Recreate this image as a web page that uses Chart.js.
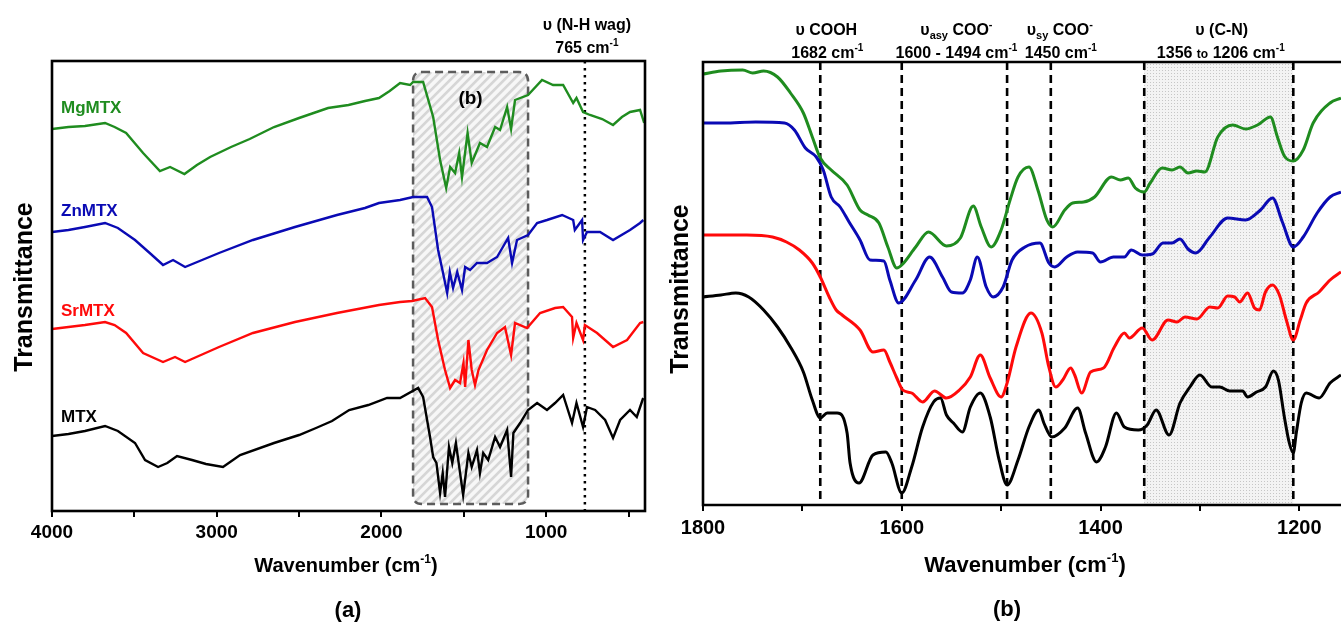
<!DOCTYPE html>
<html>
<head>
<meta charset="utf-8">
<script src="https://cdn.jsdelivr.net/npm/chart.js@4.4.1/dist/chart.umd.min.js"></script>
<style>
  html, body { margin: 0; padding: 0; background: #fff; }
  #wrap { position: relative; width: 1341px; height: 623px; overflow: hidden; }
  #boxA { position: absolute; left: 0; top: 0; width: 660px; height: 623px; }
  #boxB { position: absolute; left: 660px; top: 0; width: 681px; height: 623px; }
</style>
</head>
<body>
<div id="wrap">
  <div id="boxA"><canvas id="chartA" width="660" height="623"></canvas></div>
  <div id="boxB"><canvas id="chartB" width="681" height="623"></canvas></div>
</div>
<script>
// ---- Full-range FTIR spectra, [wavenumber cm-1, transmittance (a.u., stacked)] ----
const mgFull = [[4000,382],[3900,384],[3800,385],[3678,388],[3620,384],[3550,378],[3447,358],[3345,340],[3283,344],[3196,337],[3120,346],[3040,354],[2913,364],[2800,372],[2652,384],[2500,393],[2324,403],[2200,406],[2100,410],[2015,413],[1950,420],[1887,428],[1826,426],[1808,429],[1747,429],[1686,394],[1644,351],[1607,323],[1583,344],[1553,338],[1528,358],[1511,334],[1477,378],[1452,348],[1402,368],[1359,364],[1310,384],[1280,381],[1237,404],[1213,382],[1189,411],[1110,416],[1025,431],[958,426],[897,426],[836,408],[816,413],[776,399],[734,396],[660,392],[594,386],[540,394],[491,399],[430,401],[405,388]];
const znFull = [[4000,279],[3900,281],[3800,284],[3678,288],[3600,283],[3496,271],[3400,257],[3326,246],[3265,251],[3192,244],[2986,258],[2780,271],[2525,284],[2270,296],[2100,303],[2015,308],[1887,311],[1808,314],[1723,314],[1693,304],[1656,261],[1626,238],[1601,218],[1585,239],[1565,223],[1540,239],[1511,221],[1492,244],[1462,241],[1420,248],[1359,248],[1298,254],[1231,273],[1207,248],[1177,271],[1110,276],[1055,288],[995,291],[903,296],[836,291],[826,281],[782,291],[776,271],[752,279],[673,279],[594,271],[491,281],[430,288],[410,291]];
const srFull = [[4000,182],[3900,184],[3800,186],[3678,189],[3620,186],[3550,178],[3447,158],[3326,149],[3253,154],[3192,149],[2986,164],[2780,178],[2525,189],[2270,198],[2015,206],[1887,209],[1814,210],[1735,213],[1693,204],[1656,171],[1614,141],[1583,123],[1553,131],[1523,128],[1502,148],[1492,124],[1472,171],[1452,141],[1432,126],[1411,141],[1359,161],[1298,178],[1250,184],[1213,156],[1189,188],[1116,183],[1037,198],[946,203],[897,204],[843,194],[836,173],[816,188],[776,171],[765,186],[691,178],[594,164],[509,171],[430,188],[410,189]];
const mtxFull = [[4000,75],[3900,77],[3800,80],[3678,85],[3600,80],[3496,68],[3435,51],[3356,44],[3300,48],[3241,55],[3150,51],[3065,47],[2962,44],[2858,56],[2652,68],[2500,76],[2397,83],[2300,90],[2196,101],[2080,106],[1966,113],[1887,113],[1777,123],[1747,114],[1705,74],[1686,54],[1666,48],[1644,18],[1628,38],[1614,14],[1590,64],[1570,48],[1548,68],[1504,16],[1472,58],[1452,44],[1420,61],[1402,38],[1382,58],[1352,51],[1310,74],[1280,64],[1237,81],[1213,34],[1199,78],[1158,88],[1110,101],[1055,108],[995,101],[946,108],[897,116],[843,88],[816,108],[776,84],[752,104],[703,101],[642,91],[594,73],[551,91],[491,101],[450,94],[411,113]];

// ---- Fingerprint region 1800-1158 cm-1 ----
const mgFinger = [[1800,431],[1782,434],[1760,435],[1750,432],[1739,434],[1725,428],[1712,412],[1699,392],[1690,368],[1682,347],[1671,335],[1655,320],[1642,295],[1634,290],[1623,282],[1614,258],[1605,237],[1600,240],[1586,258],[1573,273],[1555,259],[1541,267],[1528,299],[1520,278],[1510,258],[1500,275],[1491,305],[1483,328],[1472,338],[1463,315],[1454,285],[1448,278],[1436,295],[1428,302],[1417,303],[1406,308],[1389,328],[1380,325],[1372,327],[1365,317],[1356,313],[1350,322],[1338,337],[1328,335],[1320,338],[1312,332],[1303,334],[1295,333],[1282,368],[1267,380],[1254,376],[1242,380],[1229,388],[1222,368],[1215,349],[1206,344],[1196,355],[1186,382],[1169,402],[1158,407]];
const znFinger = [[1800,382],[1779,382],[1747,383],[1718,382],[1708,375],[1697,357],[1686,348],[1679,335],[1671,308],[1662,298],[1653,283],[1642,265],[1632,245],[1618,244],[1612,225],[1603,202],[1586,225],[1572,248],[1559,228],[1550,213],[1539,212],[1531,225],[1524,248],[1515,218],[1508,208],[1498,218],[1489,245],[1476,258],[1461,262],[1452,242],[1446,238],[1434,248],[1423,253],[1408,252],[1400,243],[1387,248],[1376,248],[1369,255],[1358,250],[1348,251],[1337,262],[1328,262],[1320,266],[1312,256],[1304,252],[1290,268],[1272,287],[1254,285],[1239,295],[1227,307],[1217,283],[1206,258],[1196,268],[1182,292],[1169,308],[1158,313]];
const srFinger = [[1800,270],[1756,270],[1730,268],[1716,263],[1703,255],[1690,242],[1682,228],[1673,208],[1666,195],[1660,190],[1642,175],[1629,153],[1618,155],[1612,143],[1605,127],[1599,115],[1590,112],[1579,103],[1567,114],[1555,107],[1542,115],[1531,128],[1521,150],[1511,127],[1500,108],[1494,122],[1485,158],[1470,192],[1459,172],[1452,138],[1445,118],[1438,125],[1430,137],[1426,130],[1419,112],[1410,133],[1397,137],[1386,158],[1376,172],[1371,167],[1358,177],[1348,165],[1332,185],[1323,183],[1315,188],[1303,186],[1290,198],[1282,197],[1272,209],[1265,208],[1260,203],[1252,212],[1245,197],[1240,195],[1234,213],[1227,220],[1220,210],[1213,185],[1206,165],[1199,185],[1193,202],[1180,213],[1169,225],[1158,233]];
const mtxFinger = [[1800,208],[1782,210],[1767,212],[1754,208],[1739,195],[1725,178],[1712,158],[1699,133],[1690,105],[1682,87],[1675,92],[1665,92],[1655,72],[1652,42],[1643,22],[1629,50],[1616,53],[1610,42],[1600,12],[1590,38],[1579,78],[1568,103],[1561,107],[1555,90],[1548,82],[1539,73],[1531,98],[1521,112],[1511,88],[1502,45],[1494,20],[1483,45],[1472,78],[1462,95],[1457,82],[1449,68],[1436,77],[1423,97],[1415,72],[1404,43],[1395,58],[1384,92],[1376,78],[1362,75],[1353,80],[1344,95],[1331,70],[1320,102],[1310,118],[1300,130],[1288,118],[1280,118],[1270,114],[1257,114],[1252,108],[1243,113],[1234,118],[1226,134],[1221,125],[1215,88],[1210,62],[1206,52],[1203,72],[1198,102],[1193,112],[1180,107],[1169,122],[1158,130]];

// ---- Axis ticks ----
const ticksA = [4000, 3500, 3000, 2500, 2000, 1500, 1000, 500];
const labelsA = [4000, 3000, 2000, 1000];
const ticksB = [1800, 1700, 1600, 1500, 1400, 1300, 1200];
const labelsB = [1800, 1600, 1400, 1200];

// ---- Marked bands ----
const nhWag = 765;                      // N-H wag
const zoomWindow = [1808, 1110];        // region expanded in (b)
const bandLines = [1682, 1600, 1494, 1450, 1356, 1206];
const cnBand = [1356, 1206];

const FF = "'Liberation Sans', Arial, Helvetica, sans-serif";
const GREEN = '#1f8c1f', BLUE = '#0a0ab4', RED = '#ff0a0a', BLACK = '#000000';
const AXIS_H = 40;

Chart.defaults.font.family = FF;
Chart.defaults.animation = false;

const pts = arr => arr.map(p => ({ x: p[0], y: p[1] }));

// draws a line of text made of runs with their own size / vertical shift
function rich(ctx, parts, x, baseY, align) {
  let w = 0;
  for (const p of parts) { ctx.font = `bold ${p[1]}px ${FF}`; w += ctx.measureText(p[0]).width; }
  let xx = align === 'left' ? x : x - w / 2;
  ctx.textAlign = 'left';
  ctx.textBaseline = 'alphabetic';
  for (const p of parts) {
    ctx.font = `bold ${p[1]}px ${FF}`;
    ctx.fillText(p[0], xx, baseY + (p[2] || 0));
    xx += ctx.measureText(p[0]).width;
  }
}

function vText(ctx, text, x, y, size) {
  ctx.save();
  ctx.translate(x, y);
  ctx.rotate(-Math.PI / 2);
  ctx.font = `bold ${size}px ${FF}`;
  ctx.textAlign = 'center';
  ctx.textBaseline = 'alphabetic';
  ctx.fillStyle = '#000';
  ctx.fillText(text, 0, 0);
  ctx.restore();
}

function roundRectPath(ctx, x, y, w, h, r) {
  ctx.beginPath();
  ctx.moveTo(x + r, y);
  ctx.lineTo(x + w - r, y);
  ctx.quadraticCurveTo(x + w, y, x + w, y + r);
  ctx.lineTo(x + w, y + h - r);
  ctx.quadraticCurveTo(x + w, y + h, x + w - r, y + h);
  ctx.lineTo(x + r, y + h);
  ctx.quadraticCurveTo(x, y + h, x, y + h - r);
  ctx.lineTo(x, y + r);
  ctx.quadraticCurveTo(x, y, x + r, y);
  ctx.closePath();
}

function xScale(min, max, ticks, labels, size, pad) {
  return {
    type: 'linear', reverse: true, min, max,
    afterBuildTicks: s => { s.ticks = ticks.map(v => ({ value: v })); },
    afterFit: s => { s.height = AXIS_H; },
    ticks: {
      autoSkip: false, maxRotation: 0, minRotation: 0, padding: pad, color: '#000',
      font: { size, weight: 'bold' },
      callback: v => labels.includes(v) ? String(v) : ''
    },
    grid: { display: true, drawOnChartArea: false, drawTicks: true, tickLength: 6, color: '#000', lineWidth: 2 },
    border: { display: false }
  };
}

function lineSet(label, data, color, width, smooth) {
  return {
    label, data: pts(data), borderColor: color, backgroundColor: color,
    borderWidth: width, pointRadius: 0, fill: false,
    tension: smooth ? 0.4 : 0, cubicInterpolationMode: smooth ? 'monotone' : 'default'
  };
}

// ---------- panel (a) ----------
const decorA = {
  id: 'decorA',
  beforeDatasetsDraw(chart) {
    const { ctx, chartArea: ca, scales: { x, y } } = chart;
    const x0 = x.getPixelForValue(zoomWindow[0]), x1 = x.getPixelForValue(zoomWindow[1]);
    const y0 = y.getPixelForValue(439), y1 = y.getPixelForValue(7);
    const w = x1 - x0, h = y1 - y0;
    ctx.save();
    roundRectPath(ctx, x0, y0, w, h, 9);
    ctx.fillStyle = '#f7f7f7';
    ctx.fill();
    ctx.clip();
    ctx.strokeStyle = '#d6d6d6';
    ctx.lineWidth = 2.6;
    ctx.beginPath();
    for (let k = -h; k < w + h; k += 9) {
      ctx.moveTo(x0 + k, y1);
      ctx.lineTo(x0 + k + h, y0);
    }
    ctx.stroke();
    ctx.restore();
    ctx.save();
    roundRectPath(ctx, x0, y0, w, h, 9);
    ctx.setLineDash([8, 5]);
    ctx.strokeStyle = '#5c5c5c';
    ctx.lineWidth = 2.5;
    ctx.stroke();
    ctx.restore();
    // N-H wag marker
    const xn = x.getPixelForValue(nhWag);
    ctx.save();
    ctx.setLineDash([2.5, 4.5]);
    ctx.strokeStyle = '#000';
    ctx.lineWidth = 2.5;
    ctx.beginPath();
    ctx.moveTo(xn, ca.top);
    ctx.lineTo(xn, ca.bottom);
    ctx.stroke();
    ctx.restore();
  },
  afterDraw(chart) {
    const { ctx, chartArea: ca, scales: { x } } = chart;
    ctx.save();
    ctx.strokeStyle = '#000';
    ctx.lineWidth = 2.6;
    ctx.strokeRect(ca.left, ca.top, ca.right - ca.left, ca.bottom - ca.top);
    ctx.fillStyle = '#000';
    rich(ctx, [['(b)', 19]], (x.getPixelForValue(zoomWindow[0]) + x.getPixelForValue(zoomWindow[1])) / 2, 104);
    const xn = x.getPixelForValue(nhWag);
    rich(ctx, [['υ (N-H wag)', 16]], xn + 2, 30);
    rich(ctx, [['765 cm', 16], ['-1', 10, -7]], xn + 2, 53);
    rich(ctx, [['Wavenumber (cm', 20], ['-1', 12, -9], [')', 20]], 346, 572);
    rich(ctx, [['(a)', 22]], 348, 617);
    vText(ctx, 'Transmittance', 32, 287, 25);
    const names = [['MgMTX', GREEN, 113], ['ZnMTX', BLUE, 216], ['SrMTX', RED, 316], ['MTX', BLACK, 422]];
    for (const [t, c, by] of names) { ctx.fillStyle = c; rich(ctx, [[t, 17]], 61, by, 'left'); }
    ctx.restore();
  }
};

new Chart(document.getElementById('chartA'), {
  type: 'line',
  data: {
    datasets: [
      lineSet('MgMTX', mgFull, GREEN, 2.4, false),
      lineSet('ZnMTX', znFull, BLUE, 2.4, false),
      lineSet('SrMTX', srFull, RED, 2.4, false),
      lineSet('MTX', mtxFull, BLACK, 2.4, false)
    ]
  },
  options: {
    responsive: false,
    layout: { padding: { left: 52, right: 15, top: 61, bottom: 112 - AXIS_H } },
    plugins: { legend: { display: false }, tooltip: { enabled: false } },
    scales: {
      x: xScale(400, 4000, ticksA, labelsA, 19, 4),
      y: { display: false, min: 0, max: 450 }
    }
  },
  plugins: [decorA]
});

// ---------- panel (b) ----------
function dotPattern(ctx) {
  const c = document.createElement('canvas');
  c.width = 3; c.height = 3;
  const g = c.getContext('2d');
  g.fillStyle = '#f3f3f3';
  g.fillRect(0, 0, 3, 3);
  g.fillStyle = '#c6c6c6';
  g.fillRect(1, 1, 1, 1);
  return ctx.createPattern(c, 'repeat');
}

const decorB = {
  id: 'decorB',
  beforeDatasetsDraw(chart) {
    const { ctx, chartArea: ca, scales: { x } } = chart;
    const xa = x.getPixelForValue(cnBand[0]), xb = x.getPixelForValue(cnBand[1]);
    ctx.save();
    ctx.fillStyle = dotPattern(ctx);
    ctx.fillRect(xa, ca.top, xb - xa, ca.bottom - ca.top);
    ctx.setLineDash([8, 5]);
    ctx.strokeStyle = '#000';
    ctx.lineWidth = 2.6;
    for (const wn of bandLines) {
      const px = x.getPixelForValue(wn);
      ctx.beginPath();
      ctx.moveTo(px, ca.top);
      ctx.lineTo(px, ca.bottom);
      ctx.stroke();
    }
    ctx.restore();
  },
  afterDraw(chart) {
    const { ctx, chartArea: ca, scales: { x } } = chart;
    ctx.save();
    ctx.strokeStyle = '#000';
    ctx.lineWidth = 2.6;
    ctx.beginPath();
    ctx.moveTo(chart.width, ca.top);
    ctx.lineTo(ca.left, ca.top);
    ctx.lineTo(ca.left, ca.bottom);
    ctx.lineTo(chart.width, ca.bottom);
    ctx.stroke();
    ctx.fillStyle = '#000';
    const px = wn => x.getPixelForValue(wn);
    rich(ctx, [['υ COOH', 16]], px(1682) + 6, 35);
    rich(ctx, [['1682 cm', 16], ['-1', 10, -7]], px(1682) + 7, 58);
    rich(ctx, [['υ', 16], ['asy', 11, 4], [' COO', 16], ['-', 11, -7]], (px(1600) + px(1494)) / 2 + 2, 35);
    rich(ctx, [['1600 - 1494 cm', 16], ['-1', 10, -7]], (px(1600) + px(1494)) / 2 + 2, 58);
    rich(ctx, [['υ', 16], ['sy', 11, 4], [' COO', 16], ['-', 11, -7]], px(1450) + 9, 35);
    rich(ctx, [['1450 cm', 16], ['-1', 10, -7]], px(1450) + 10, 58);
    rich(ctx, [['υ (C-N)', 16]], (px(1356) + px(1206)) / 2 + 3, 35);
    rich(ctx, [['1356 ', 16], ['to', 12], [' 1206 cm', 16], ['-1', 10, -7]], (px(1356) + px(1206)) / 2 + 2, 58);
    rich(ctx, [['Wavenumber (cm', 22], ['-1', 13, -10], [')', 22]], 365, 572);
    rich(ctx, [['(b)', 22]], 347, 616);
    vText(ctx, 'Transmittance', 28, 289, 25);
    ctx.restore();
  }
};

new Chart(document.getElementById('chartB'), {
  type: 'line',
  data: {
    datasets: [
      lineSet('MTX', mtxFinger, BLACK, 3, true),
      lineSet('SrMTX', srFinger, RED, 3, true),
      lineSet('ZnMTX', znFinger, BLUE, 3, true),
      lineSet('MgMTX', mgFinger, GREEN, 3, true)
    ]
  },
  options: {
    responsive: false,
    layout: { padding: { left: 43, right: 0, top: 62, bottom: 118 - AXIS_H } },
    plugins: { legend: { display: false }, tooltip: { enabled: false } },
    scales: {
      x: xScale(1158, 1800, ticksB, labelsB, 20, 5),
      y: { display: false, min: 0, max: 443 }
    }
  },
  plugins: [decorB]
});
</script>
</body>
</html>
